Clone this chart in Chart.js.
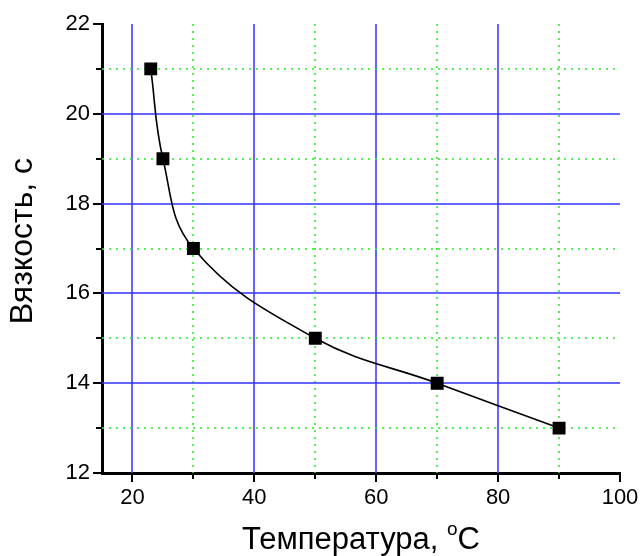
<!DOCTYPE html>
<html>
<head>
<meta charset="utf-8">
<script src="https://cdn.jsdelivr.net/npm/chart.js@4/dist/chart.umd.min.js"></script>
<style>
  html, body { margin: 0; padding: 0; background: #fff; }
  #wrap { width: 640px; height: 556px; }
</style>
</head>
<body>
<div id="wrap"><canvas id="myChart"></canvas></div>
<script>
const temperature = [23, 25, 30, 50, 70, 90];
const viscosity = [21, 19, 17, 15, 14, 13];
const xTicks = [20, 30, 40, 50, 60, 70, 80, 90, 100];
const yTicks = [12, 13, 14, 15, 16, 17, 18, 19, 20, 21, 22];
const xMajor = [20, 40, 60, 80, 100];
const yMajor = [12, 14, 16, 18, 20, 22];

const FONT = '"Liberation Sans", Arial, sans-serif';
const BLUE = 'rgb(50,50,255)';
const GREEN = '#22ee22';

// grid (blue major, dotted green minor), tick marks, axis titles
const extras = {
    id: 'extras',
    beforeDatasetsDraw(chart) {
        const c = chart.ctx, a = chart.chartArea;
        const x = chart.scales.x, y = chart.scales.y;
        c.save();
        c.lineWidth = 1.5;
        xTicks.forEach(v => {
            const p = Math.round(x.getPixelForValue(v));
            if (p <= a.left + 2 || p >= a.right - 2) return;
            const major = xMajor.includes(v);
            c.strokeStyle = major ? BLUE : GREEN;
            c.setLineDash(major ? [] : [2, 5]);
            c.beginPath(); c.moveTo(p, a.top); c.lineTo(p, a.bottom); c.stroke();
        });
        yTicks.forEach(v => {
            const p = Math.round(y.getPixelForValue(v));
            if (p <= a.top + 2 || p >= a.bottom - 2) return;
            const major = yMajor.includes(v);
            c.strokeStyle = major ? BLUE : GREEN;
            c.setLineDash(major ? [] : [2, 5]);
            c.beginPath(); c.moveTo(a.left, p); c.lineTo(a.right, p); c.stroke();
        });
        c.restore();
    },
    afterDraw(chart) {
        const c = chart.ctx, a = chart.chartArea;
        const x = chart.scales.x, y = chart.scales.y;
        c.save();
        c.strokeStyle = '#000';
        c.lineWidth = 2;
        xTicks.forEach(v => {
            const p = Math.round(x.getPixelForValue(v));
            const len = xMajor.includes(v) ? 9 : 6;
            c.beginPath(); c.moveTo(p, a.bottom); c.lineTo(p, a.bottom + len); c.stroke();
        });
        yTicks.forEach(v => {
            const p = Math.round(y.getPixelForValue(v));
            const len = yMajor.includes(v) ? 9 : 6;
            c.beginPath(); c.moveTo(a.left, p); c.lineTo(a.left - len, p); c.stroke();
        });
        c.fillStyle = '#000';
        c.textBaseline = 'alphabetic';
        // y axis title
        c.save();
        c.translate(32, 241);
        c.rotate(-Math.PI / 2);
        c.font = '32px ' + FONT;
        c.textAlign = 'center';
        c.fillText('Вязкость, с', 0, 0);
        c.restore();
        // x axis title with superscript o
        const t1 = 'Температура, ', t2 = 'o', t3 = 'C';
        c.textAlign = 'left';
        c.font = '31px ' + FONT;
        const w1 = c.measureText(t1).width, w3 = c.measureText(t3).width;
        c.font = '19px ' + FONT;
        const w2 = c.measureText(t2).width;
        const sx = 361 - (w1 + w2 + w3) / 2;
        const base = 549;
        c.font = '31px ' + FONT;
        c.fillText(t1, sx, base);
        c.font = '19px ' + FONT;
        c.fillText(t2, sx + w1, base - 14);
        c.font = '31px ' + FONT;
        c.fillText(t3, sx + w1 + w2, base);
        c.restore();
    }
};

new Chart(document.getElementById('myChart'), {
    type: 'line',
    data: {
        datasets: [{
            data: temperature.map((t, i) => ({ x: t, y: viscosity[i] })),
            borderColor: '#000',
            borderWidth: 1.6,
            backgroundColor: '#000',
            pointStyle: 'rect',
            pointRadius: 8,
            pointHoverRadius: 8,
            tension: 0.4,
            fill: false
        }]
    },
    options: {
        responsive: true,
        maintainAspectRatio: false,
        animation: false,
        layout: { padding: { top: 24, right: 20, left: 0, bottom: 0 } },
        plugins: { legend: { display: false }, tooltip: { enabled: false } },
        scales: {
            x: {
                type: 'linear',
                min: 15,
                max: 100,
                afterBuildTicks: s => { s.ticks = xTicks.map(v => ({ value: v })); },
                afterFit: s => { s.height = 83; s.paddingRight = 0; s.paddingLeft = 0; },
                ticks: {
                    color: '#000',
                    padding: 12,
                    maxRotation: 0,
                    autoSkip: false,
                    font: { family: FONT, size: 22 },
                    callback: v => xMajor.includes(v) ? String(v) : ''
                },
                grid: { drawTicks: false, drawOnChartArea: false },
                border: { color: '#000', width: 3 }
            },
            y: {
                min: 12,
                max: 22,
                afterBuildTicks: s => { s.ticks = yTicks.map(v => ({ value: v })); },
                afterFit: s => { s.width = 102; s.paddingTop = 0; s.paddingBottom = 0; },
                ticks: {
                    color: '#000',
                    padding: 12,
                    autoSkip: false,
                    font: { family: FONT, size: 22 },
                    callback: v => yMajor.includes(v) ? String(v) : ''
                },
                grid: { drawTicks: false, drawOnChartArea: false },
                border: { color: '#000', width: 3 }
            }
        }
    },
    plugins: [extras]
});
</script>
</body>
</html>
